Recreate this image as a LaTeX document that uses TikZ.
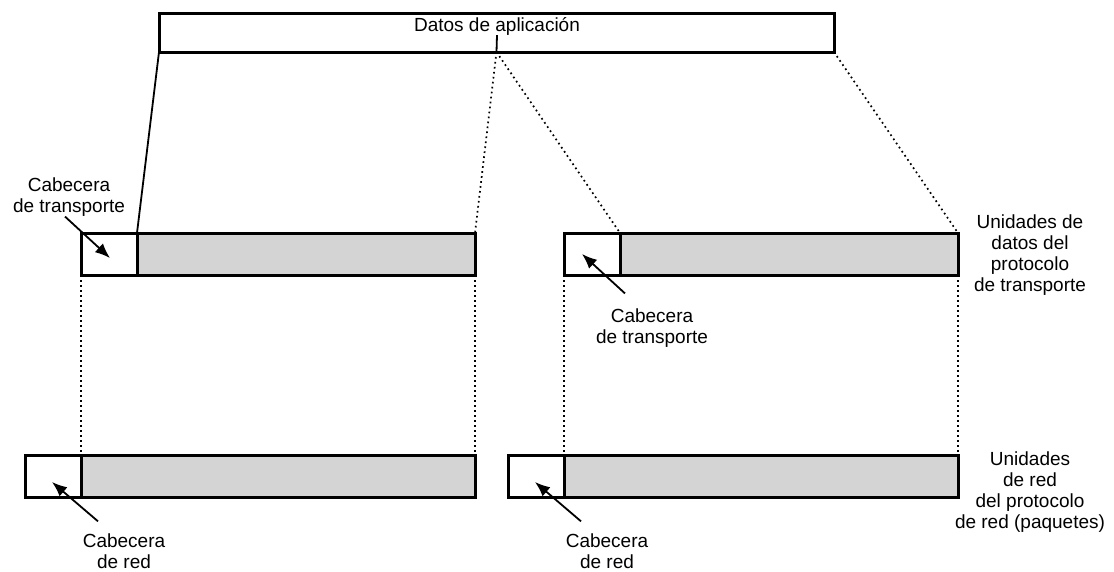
\documentclass[tikz,border=0pt]{standalone}
\usepackage{fontspec}
\setmainfont{Liberation Sans}
\usetikzlibrary{positioning}
\usetikzlibrary{arrows.meta}

\newcommand\rotulo{\fontsize{19}{21}\selectfont}

\begin{document}
\begin{tikzpicture} [x=1pt, y=-1pt,
        caja/.style={draw, line width=3pt, inner sep=0pt, outer sep=0pt, minimum height=42},
        cabecera/.style={caja, fill=white, minimum width=56},
        carga/.style={caja, fill=black!17},
        texto/.style={align=center, inner sep=0pt, font=\rotulo},
        punteado/.style={line width=1.7pt, dash pattern=on 1.7pt off 3.3pt}]
            \useasboundingbox (0,0) rectangle (1114,571);

            \node [caja, minimum width=675, minimum height=39, anchor=north west] (app) at (159,13) {};
            \node [texto] (datos) at (497,26) {Datos de aplicación};

            \node [cabecera, anchor=north west] (th1) at (81,233) {};
            \node [carga, minimum width=338, right=0pt of th1] (td1) {};
            \node [cabecera, anchor=north west] (th2) at (564,233) {};
            \node [carga, minimum width=338, right=0pt of th2] (td2) {};

            \node [cabecera, anchor=north west] (nh1) at (25,455) {};
            \node [carga, minimum width=394, right=0pt of nh1] (nd1) {};
            \node [cabecera, anchor=north west] (nh2) at (508,455) {};
            \node [carga, minimum width=394, right=0pt of nh2] (nd2) {};

            \node [texto] (ct1) at (69,197)   {Cabecera\\de transporte};
            \node [texto] (ct2) at (652,328)  {Cabecera\\de transporte};
            \node [texto] (cr1) at (124,551)  {Cabecera\\de red};
            \node [texto] (cr2) at (607,551)  {Cabecera\\de red};
            \node [texto] (udt) at (1030,255) {Unidades de\\datos del\\protocolo\\de transporte};
            \node [texto] (udr) at (1030,492) {Unidades\\de red\\del protocolo\\de red (paquetes)};

            \draw [line width=1.8pt] (datos.south) -- (app.south);
            \draw [line width=1.8pt] (app.south west) -- (td1.north west);
            \draw [punteado] (app.south) -- (td1.north east);
            \draw [punteado] (app.south) -- (td2.north west);
            \draw [punteado] (app.south east) -- (td2.north east);

            \draw [punteado] (th1.south west) -- (nd1.north west);
            \draw [punteado] (td1.south east) -- (nd1.north east);
            \draw [punteado] (th2.south west) -- (nd2.north west);
            \draw [punteado] (td2.south east) -- (nd2.north east);

            \begin{scope}[line width=1.8pt, ->, >={Latex[length=15pt, width=12pt]}]
                \draw ([xshift=-4pt]ct1.south) -> ([xshift=1pt, yshift=-4pt]th1.center);
                \draw ([xshift=-27pt, yshift=15pt]ct2.north) -> ([xshift=-10pt]th2.center);
                \draw ([xshift=-26pt, yshift=12pt]cr1.north) -> ([xshift=-1pt, yshift=-6pt]nh1.center);
                \draw ([xshift=-26pt, yshift=12pt]cr2.north) -> ([xshift=-1pt, yshift=-6pt]nh2.center);
            \end{scope}
        \end{tikzpicture}
\end{document}
